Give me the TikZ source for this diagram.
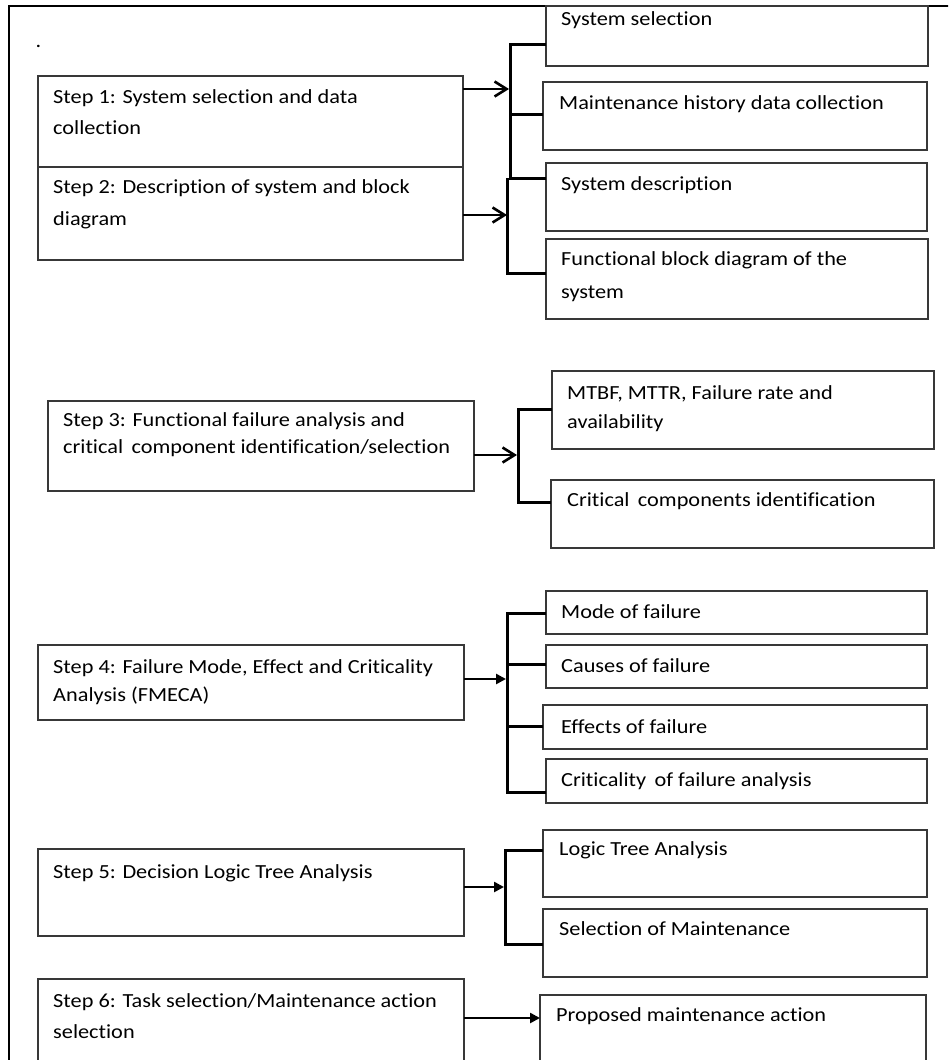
\documentclass[tikz,border=0pt]{standalone}
\usepackage{fontspec}
\setmainfont{Carlito}[FakeStretch=1.115,Ligatures=NoCommon]
\usetikzlibrary{arrows.meta}
\begin{document}
\begin{tikzpicture}[x=1pt,y=-1pt,
  box/.style={draw=black!78, line width=1.3pt, anchor=north west, inner sep=0pt, outer sep=0pt},
  txt/.style={anchor=base west, inner sep=0pt, align=left, font=\fontsize{20}{31}\selectfont},
  frame/.style={draw=black, line width=1.1pt},
  brk/.style={draw=black, line width=3pt},
  openarr/.style={draw=black, line width=2.6pt, -{Straight Barb[length=12pt,width=15pt]}},
  fillarr/.style={draw=black, line width=2.6pt, -{Triangle[length=10pt,width=10pt]}}
]
\useasboundingbox (0,0) rectangle (948,1060);
\clip (0,0) rectangle (948,1060);
\fill[white] (0,0) rectangle (948,1060);
% frame
\coordinate (fA) at (9,1070);
\coordinate (fB) at (9,6);
\coordinate (fC) at (960,6);
\draw[frame] (fA) -- (fB) -- (fC);
\node[txt] (dot) at (35.5,47.5) {.};
% boxes
\node[box, minimum width=425pt, minimum height=91pt] (s1) at (38,76) {};
\node[box, minimum width=425pt, minimum height=93pt] (s2) at (38,167) {};
\node[box, minimum width=382pt, minimum height=60pt] (ss) at (546,6) {};
\node[box, minimum width=384pt, minimum height=68pt] (mh) at (543,82) {};
\node[box, minimum width=381pt, minimum height=68pt] (sd) at (546,163) {};
\node[box, minimum width=382pt, minimum height=80pt] (fb) at (546,239) {};
\node[box, minimum width=426pt, minimum height=90pt] (s3) at (48,401) {};
\node[box, minimum width=382pt, minimum height=78pt] (mt) at (552,371) {};
\node[box, minimum width=383pt, minimum height=68pt] (cc) at (551,480) {};
\node[box, minimum width=426pt, minimum height=75pt] (s4) at (38,645) {};
\node[box, minimum width=381pt, minimum height=43pt] (mo) at (546,591) {};
\node[box, minimum width=381pt, minimum height=43pt] (ca) at (546,645) {};
\node[box, minimum width=384pt, minimum height=44pt] (ef) at (543,705) {};
\node[box, minimum width=381pt, minimum height=44pt] (cr) at (546,759) {};
\node[box, minimum width=426pt, minimum height=87pt] (s5) at (38,849) {};
\node[box, minimum width=384pt, minimum height=67pt] (lt) at (543,830) {};
\node[box, minimum width=384pt, minimum height=68pt] (sm) at (543,909) {};
\node[box, minimum width=426pt, minimum height=110pt] (s6) at (38,979) {};
\node[box, minimum width=386pt, minimum height=110pt] (pm) at (540,995) {};
% texts (multi-line nodes: base = baseline of last line)
\node[txt] (t1) at (53,134) {Step 1: System selection and data\\collection};
\node[txt, font=\fontsize{20}{32}\selectfont] (t2) at (53,225) {Step 2: Description of system and block\\diagram};
\node[txt] (tss) at (561,25) {System selection};
\node[txt] (tmh) at (559,109) {Maintenance history data collection};
\node[txt] (tsd) at (561,190) {System description};
\node[txt, font=\fontsize{20}{33}\selectfont] (tfb) at (561,298) {Functional block diagram of the\\system};
\node[txt, font=\fontsize{20}{27}\selectfont] (t3) at (63,453) {Step 3: Functional failure analysis and\\critical\, component identification/selection};
\node[txt, font=\fontsize{20}{29}\selectfont] (tmt) at (567,428) {MTBF, MTTR, Failure rate and\\availability};
\node[txt] (tcc) at (567,506) {Critical\, components identification};
\node[txt, font=\fontsize{20}{28}\selectfont] (t4) at (53,701) {Step 4: Failure Mode, Effect and Criticality\\Analysis (FMECA)};
\node[txt] (tmo) at (561,618) {Mode of failure};
\node[txt] (tca) at (561,672) {Causes of failure};
\node[txt] (tef) at (561,733) {Effects of failure};
\node[txt] (tcr) at (561,786) {Criticality\, of failure analysis};
\node[txt] (t5) at (53,878) {Step 5: Decision Logic Tree Analysis};
\node[txt] (tlt) at (559,855) {Logic Tree Analysis};
\node[txt] (tsm) at (559,935) {Selection of Maintenance};
\node[txt] (t6) at (53,1038) {Step 6: Task selection/Maintenance action\\selection};
\node[txt] (tpm) at (556,1021) {Proposed maintenance action};
% step 1 and 2 connectors
\coordinate (a1) at (509,89);
\draw[openarr] (s1.east |- a1) -- (a1);
\coordinate (bA1) at (510,44);
\coordinate (bA2) at (510,178);
\coordinate (tA) at (510,114);
\draw[brk] (ss.west |- bA1) -- (bA1) -- (bA2) -- (sd.west |- bA2);
\draw[brk] (tA) -- (mh.west |- tA);
\coordinate (a2) at (507,215);
\draw[openarr] (s2.east |- a2) -- (a2);
\coordinate (bB1) at (507,178);
\coordinate (bB2) at (507,273);
\draw[brk] (bB1) -- (bB2) -- (fb.west |- bB2);
% step 3
\coordinate (a3) at (517,455);
\draw[openarr] (s3.east |- a3) -- (a3);
\coordinate (b31) at (518,409);
\coordinate (b32) at (518,502);
\draw[brk] (mt.west |- b31) -- (b31) -- (b32) -- (cc.west |- b32);
% step 4
\coordinate (a4) at (506,679);
\draw[fillarr] (s4.east |- a4) -- (a4);
\coordinate (b41) at (507,613);
\coordinate (b42) at (507,664);
\coordinate (b43) at (507,726);
\coordinate (b44) at (507,792);
\draw[brk] (mo.west |- b41) -- (b41) -- (b44) -- (cr.west |- b44);
\draw[brk] (b42) -- (ca.west |- b42);
\draw[brk] (b43) -- (ef.west |- b43);
% step 5
\coordinate (a5) at (504,887);
\draw[fillarr] (s5.east |- a5) -- (a5);
\coordinate (b51) at (505,850);
\coordinate (b52) at (505,944);
\draw[brk] (lt.west |- b51) -- (b51) -- (b52) -- (sm.west |- b52);
% step 6
\coordinate (a6) at (464,1018);
\draw[fillarr] (a6) -- (pm.west |- a6);
\end{tikzpicture}
\end{document}
